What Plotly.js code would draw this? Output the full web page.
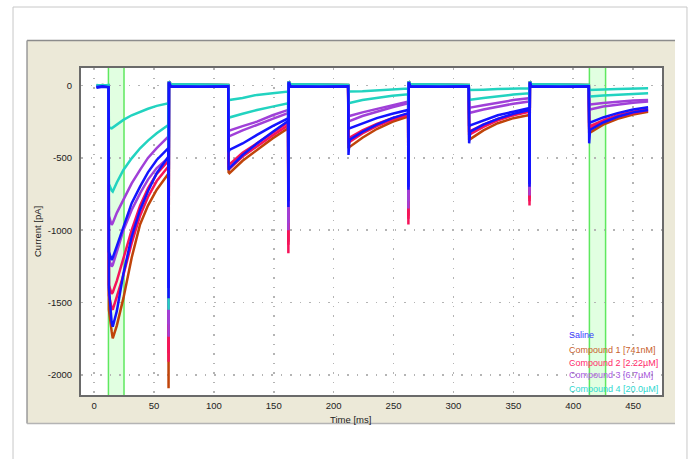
<!DOCTYPE html>
<html>
<head>
<meta charset="utf-8">
<script src="https://cdn.plot.ly/plotly-3.0.1.min.js"></script>
<style>
  html, body { margin: 0; padding: 0; background: #ffffff; }
  #chart { width: 691px; height: 459px; }
</style>
</head>
<body>
<div id="chart"></div>
<script>
// ---- data ----
const time = [
  2, 7, 12.1,
  12.4, 14.7, 15.6, 19, 24.5, 31.4, 38.4, 45, 52.3, 62.0,
  62.2,
  62.5, 64, 88, 112.0,
  112.3, 113, 124, 136, 149, 162.0,
  162.2,
  162.5, 164, 188, 212.1,
  212.4, 213.2, 224, 236, 249, 262.2,
  262.4,
  262.7, 264, 288, 312.8,
  313.1, 314, 325, 337, 350, 363.3,
  363.5,
  363.8, 365, 389, 413.0,
  413.3, 414, 425, 437, 450, 462.5
];

const saline1 = [
  -10, -5, -10,
  -1150, -1206, -1190, -1110, -975, -813, -699, -600, -514, -433,
  -1400,
  20, -5, -8, -5,
  -460, -445, -400, -341, -280, -226,
  -800,
  20, -5, -8, -5,
  -300, -295, -260, -225, -195, -168,
  -700,
  20, -5, -8, -5,
  -280, -275, -240, -205, -180, -155,
  -680,
  20, -5, -8, -5,
  -260, -255, -220, -190, -165, -150
];

const saline2 = [
  -15, -8, -12,
  -1400, -1640, -1668, -1560, -1300, -1045, -860, -730, -606, -491,
  -1470,
  25, -8, -10, -8,
  -583, -570, -480, -400, -320, -245,
  -840,
  25, -8, -10, -8,
  -480, -375, -320, -270, -225, -190,
  -720,
  25, -8, -10, -8,
  -399, -318, -270, -230, -195, -168,
  -700,
  25, -8, -10, -8,
  -399, -307, -255, -215, -185, -168
];

const compound1 = [
  -5, 5, 0,
  -1550, -1700, -1748, -1660, -1470, -1190, -960, -830, -720, -610,
  -2094,
  30, 10, 8, 5,
  -600, -606, -520, -445, -365, -295,
  -1080,
  30, 10, 8, 5,
  -433, -425, -360, -300, -250, -214,
  -900,
  30, 10, 8, 5,
  -376, -370, -310, -260, -225, -203,
  -780,
  30, 10, 8, 5,
  -330, -325, -270, -230, -200, -180
];

const compound2a = [
  -5, 0, -5,
  -1380, -1440, -1430, -1350, -1200, -1000, -830, -710, -610, -520,
  -1850,
  25, 5, 3, 0,
  -540, -545, -465, -400, -330, -255,
  -1100,
  25, 5, 3, 0,
  -370, -360, -310, -265, -225, -195,
  -920,
  25, 5, 3, 0,
  -320, -315, -270, -230, -200, -175,
  -800,
  25, 5, 3, 0,
  -285, -280, -240, -205, -180, -160
];

const compound2b = [
  0, -5, 0,
  -1450, -1540, -1550, -1460, -1310, -1090, -900, -770, -660, -560,
  -1910,
  30, 8, 5, 3,
  -570, -575, -490, -420, -345, -275,
  -1160,
  30, 8, 5, 3,
  -399, -390, -330, -280, -235, -202,
  -960,
  30, 8, 5, 3,
  -341, -335, -285, -240, -205, -180,
  -830,
  30, 8, 5, 3,
  -300, -295, -250, -215, -190, -170
];

const compound3a = [
  -5, 0, -5,
  -900, -964, -950, -880, -791, -676, -583, -500, -433, -353,
  -1650,
  25, 5, 3, 0,
  -318, -310, -280, -249, -205, -168,
  -950,
  25, 5, 3, 0,
  -214, -210, -185, -160, -135, -110,
  -800,
  25, 5, 3, 0,
  -156, -152, -135, -118, -100, -87,
  -720,
  25, 5, 3, 0,
  -133, -130, -120, -110, -103, -99
];

const compound3b = [
  0, -5, 0,
  -1200, -1252, -1240, -1150, -1000, -860, -745, -650, -570, -500,
  -1737,
  30, 8, 5, 3,
  -360, -350, -310, -270, -230, -190,
  -1000,
  30, 8, 5, 3,
  -249, -245, -210, -180, -150, -122,
  -850,
  30, 8, 5, 3,
  -191, -188, -165, -145, -125, -110,
  -760,
  30, 8, 5, 3,
  -168, -165, -145, -130, -118, -110
];

const compound4a = [
  5, 0, 5,
  -290, -295, -290, -265, -237, -205, -180, -160, -140, -122,
  -1300,
  25, 10, 8, 5,
  -105, -99, -85, -64, -52, -41,
  -600,
  25, 10, 8, 5,
  -45, -41, -38, -32, -25, -20,
  -500,
  25, 10, 8, 5,
  -30, -30, -28, -24, -20, -18,
  -480,
  25, 10, 8, 5,
  -30, -30, -27, -23, -20, -18
];

const compound4b = [
  0, 5, 0,
  -680, -725, -733, -670, -583, -503, -433, -380, -330, -272,
  -1550,
  30, 10, 8, 5,
  -226, -220, -195, -168, -145, -122,
  -700,
  30, 10, 8, 5,
  -122, -120, -100, -85, -70, -60,
  -600,
  30, 10, 8, 5,
  -99, -97, -85, -72, -62, -53,
  -550,
  30, 10, 8, 5,
  -76, -75, -68, -62, -57, -53
];

const seriesNames = ['Saline', 'Compound 1 [741nM]', 'Compound 2 [2.22\u00b5M]', 'Compound 3 [6.7\u00b5M]', 'Compound 4 [20.0\u00b5M]'];
const seriesColors = ['#1414ff', '#c0440a', '#f5145a', '#a040d8', '#22d3c0'];
const labelColors = ['#3a3aff', '#c8602c', '#ff2a6a', '#a858e0', '#30d8d0'];

const xTicks = [0, 50, 100, 150, 200, 250, 300, 350, 400, 450];
const yTicks = [0, -500, -1000, -1500, -2000];
const yTickText = ['0', '-500', '-1000', '-1500', '-2000'];

const bands = [[12, 25], [413.5, 427]];

// ---- traces (draw order: compounds first, saline on top) ----
const sweeps = [
  {y: compound1, s: 1},
  {y: compound2a, s: 2}, {y: compound2b, s: 2},
  {y: compound3a, s: 3}, {y: compound3b, s: 3},
  {y: compound4a, s: 4}, {y: compound4b, s: 4},
  {y: saline1, s: 0}, {y: saline2, s: 0}
];

const traces = sweeps.map(sw => ({
  type: 'scatter',
  mode: 'lines',
  x: time,
  y: sw.y,
  name: seriesNames[sw.s],
  line: {color: seriesColors[sw.s], width: 2.5},
  showlegend: false,
  hoverinfo: 'skip'
}));

const FONT = 'Liberation Sans, Arial, sans-serif';

const shapes = [
  // outer light frame
  {type: 'rect', xref: 'paper', yref: 'paper', x0: -0.117, x1: 1.043, y0: -0.25, y1: 1.1865,
   fillcolor: 'rgba(0,0,0,0)', line: {color: '#c8c8c8', width: 1}, layer: 'below'},
  // beige panel
  {type: 'rect', xref: 'paper', yref: 'paper', x0: -0.0929, x1: 1.0224, y0: -0.0872, y1: 1.0841,
   fillcolor: '#ece9d8', line: {width: 0}, layer: 'below'},
  {type: 'line', xref: 'paper', yref: 'paper', x0: -0.0929, x1: 1.0224, y0: 1.0841, y1: 1.0841,
   line: {color: '#8c8c8c', width: 1.5}, layer: 'below'},
  {type: 'line', xref: 'paper', yref: 'paper', x0: -0.0929, x1: -0.0929, y0: -0.0872, y1: 1.0841,
   line: {color: '#9a9a9a', width: 1.5}, layer: 'below'},
  {type: 'line', xref: 'paper', yref: 'paper', x0: -0.0929, x1: 1.0224, y0: -0.0872, y1: -0.0872,
   line: {color: '#b4b4b4', width: 1.5}, layer: 'below'},
  // plot area white
  {type: 'rect', xref: 'paper', yref: 'paper', x0: 0, x1: 1, y0: 0, y1: 1,
   fillcolor: '#ffffff', line: {width: 0}, layer: 'below'}
];
bands.forEach(b => {
  shapes.push({type: 'rect', xref: 'x', yref: 'paper', x0: b[0], x1: b[1], y0: 0, y1: 1,
    fillcolor: 'rgba(205,255,205,0.6)', line: {width: 0}, layer: 'below'});
  shapes.push({type: 'line', xref: 'x', yref: 'paper', x0: b[0], x1: b[0], y0: 0, y1: 1,
    line: {color: '#5fe85f', width: 1.5}, layer: 'below'});
  shapes.push({type: 'line', xref: 'x', yref: 'paper', x0: b[1], x1: b[1], y0: 0, y1: 1,
    line: {color: '#5fe85f', width: 1.5}, layer: 'below'});
});

const legendY = [0.1835, 0.1376, 0.0988, 0.0612, 0.0183];
const annotations = seriesNames.map((n, i) => ({
  xref: 'paper', yref: 'paper', x: 0.837, y: legendY[i], xanchor: 'left', yanchor: 'middle',
  text: n, showarrow: false, font: {family: FONT, size: 9, color: labelColors[i]}
}));
annotations.push({
  xref: 'paper', yref: 'paper', x: 0.4647, y: -0.074, xanchor: 'center', yanchor: 'middle',
  text: 'Time [ms]', showarrow: false, font: {family: FONT, size: 9.5, color: '#222'}
});
annotations.push({
  xref: 'paper', yref: 'paper', x: -0.074, y: 0.4985, xanchor: 'center', yanchor: 'middle',
  text: 'Current [pA]', textangle: -90, showarrow: false, font: {family: FONT, size: 9.5, color: '#222'}
});

const layout = {
  width: 691,
  height: 459,
  margin: {l: 81, r: 29, t: 68, b: 64, pad: 0},
  paper_bgcolor: '#ffffff',
  plot_bgcolor: 'rgba(0,0,0,0)',
  showlegend: false,
  font: {family: FONT, size: 9, color: '#222'},
  xaxis: {
    range: [-10.9, 474.1],
    tickmode: 'array', tickvals: xTicks, ticktext: xTicks.map(String),
    ticks: '', ticklabelstandoff: 1,
    showgrid: true, gridcolor: '#b4b4b4', gridwidth: 1.5, griddash: '1.5px,8px',
    zeroline: false,
    showline: true, linecolor: '#6a6a6a', linewidth: 2, mirror: true,
    tickfont: {family: FONT, size: 9.5, color: '#222'}
  },
  yaxis: {
    range: [-2140, 122],
    tickmode: 'array', tickvals: yTicks, ticktext: yTickText,
    ticks: '', ticklabelstandoff: 5,
    showgrid: true, gridcolor: '#b4b4b4', gridwidth: 1.5, griddash: '1.5px,8px',
    zeroline: false,
    showline: true, linecolor: '#6a6a6a', linewidth: 2, mirror: true,
    tickfont: {family: FONT, size: 9.5, color: '#222'}
  },
  shapes: shapes,
  annotations: annotations
};

Plotly.newPlot('chart', traces, layout, {displayModeBar: false, staticPlot: true});
</script>
</body>
</html>
